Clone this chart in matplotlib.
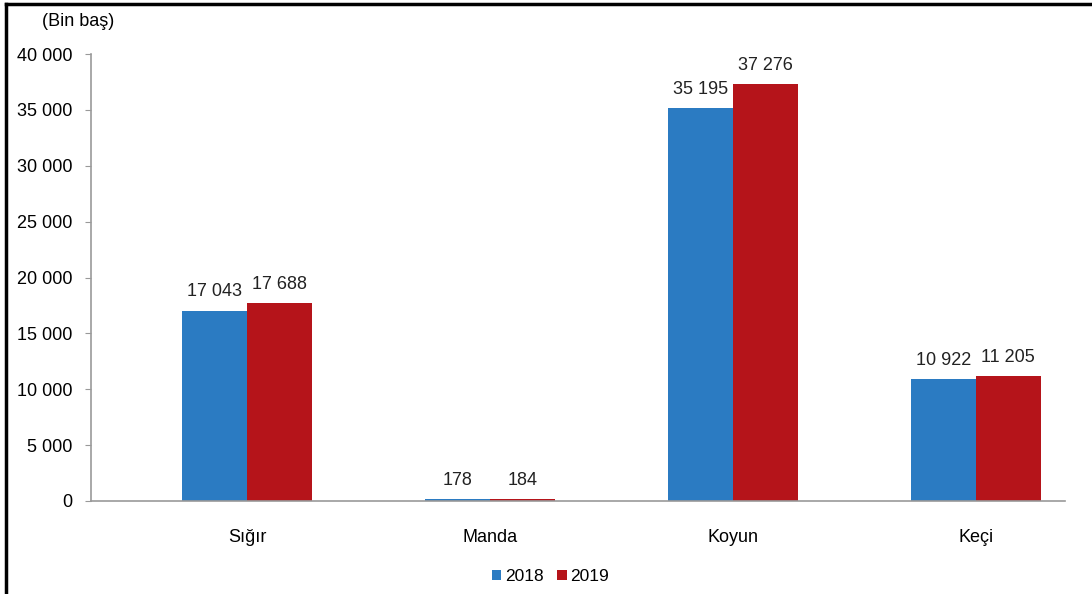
import matplotlib.pyplot as plt
import numpy as np
from matplotlib.lines import Line2D

plt.rcParams['font.family'] = ['Liberation Sans', 'DejaVu Sans']

categories = ["Sığır", "Manda", "Koyun", "Keçi"]
years = ["2018", "2019"]
values_2018 = [17043, 178, 35195, 10922]
values_2019 = [17688, 184, 37276, 11205]
yticks = [0, 5000, 10000, 15000, 20000, 25000, 30000, 35000, 40000]


def fmt(v):
    return f"{v:,}".replace(",", " ")


fig = plt.figure(figsize=(10.92, 5.94), dpi=100)
ax = fig.add_axes([0.0833, 0.1566, 0.8917, 0.7524])

x = np.arange(len(categories))
w = 0.267
blue = "#2B7BC2"
red = "#B5141A"
b1 = ax.bar(x - w / 2, values_2018, w, color=blue, label=years[0])
b2 = ax.bar(x + w / 2, values_2019, w, color=red, label=years[1])

for bars, vals in [(b1, values_2018), (b2, values_2019)]:
    for b, v in zip(bars, vals):
        ax.text(b.get_x() + b.get_width() / 2, v + 900, fmt(v),
                ha="center", va="bottom", fontsize=13, color="#222222")

ax.set_xlim(-0.642, 3.366)
ax.set_ylim(0, 40000)
ax.set_yticks(yticks)
ax.set_yticklabels([fmt(t) for t in yticks], fontsize=13)
ax.set_xticks(x)
ax.set_xticklabels(categories, fontsize=13)
ax.tick_params(axis="x", length=0, pad=20)
ax.tick_params(axis="y", length=4.5, color="#999999", pad=9)
for s in ["top", "right"]:
    ax.spines[s].set_visible(False)
for s in ["left", "bottom"]:
    ax.spines[s].set_color("#999999")
    ax.spines[s].set_linewidth(1.2)

fig.text(0.072, 0.963, "(Bin baş)", ha="center", va="center", fontsize=13)

fig.legend(loc="center", bbox_to_anchor=(0.504, 0.029), ncol=2, frameon=False,
           fontsize=12.5, handlelength=0.55, handleheight=0.55, handletextpad=0.2,
           columnspacing=0.8)

# figure border (left and top)
fig.add_artist(Line2D([0.0055, 0.0055], [0, 0.993], color="black", lw=2.5, transform=fig.transFigure))
fig.add_artist(Line2D([0.0055, 1.0], [0.993, 0.993], color="black", lw=2.5, transform=fig.transFigure))

fig.savefig("out.png", dpi=100)
